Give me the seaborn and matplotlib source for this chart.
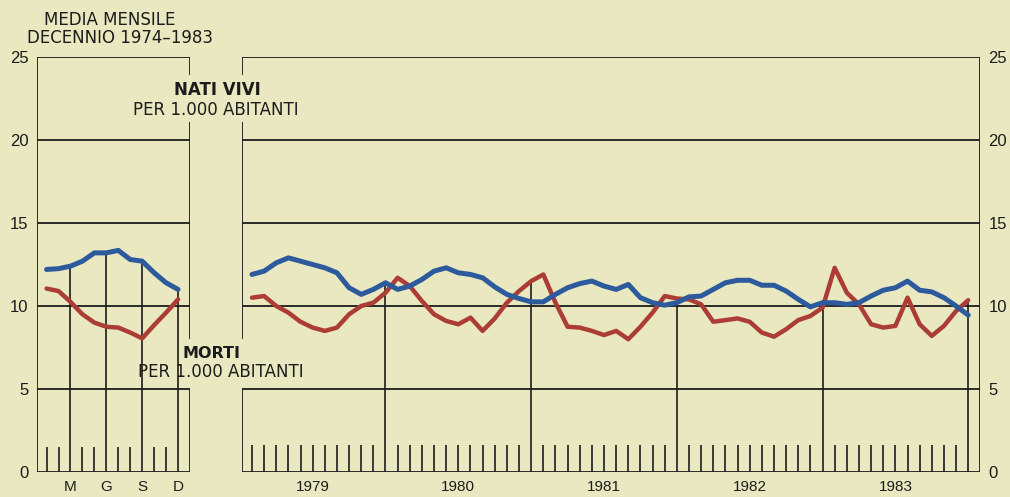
"""
Nati vivi e morti per 1.000 abitanti: media mensile 1974-1983 e serie mensile 1979-1983.
"""
import pandas as pd
import matplotlib
matplotlib.use("Agg")
import matplotlib.pyplot as plt
import seaborn as sns

sns.set_style("white")
plt.rcParams["font.family"] = ["Liberation Sans", "DejaVu Sans"]

BG = "#e9e8c0"
BLU = "#2c5a9c"
ROSSO = "#ab3d35"
INK = "#1c1c1c"

# media mensile decennio 1974-1983
mesi = list(range(1, 13))
nati_media = [12.2, 12.25, 12.4, 12.7, 13.2, 13.2, 13.35, 12.8, 12.7, 12.0, 11.4, 11.0]
morti_media = [11.05, 10.9, 10.25, 9.5, 9.0, 8.75, 8.7, 8.4, 8.05, 8.85, 9.6, 10.4]
lettere_mesi = ["M", "G", "S", "D"]

# serie mensile 1979-1983
anni = ["1979", "1980", "1981", "1982", "1983"]
nati = [11.9, 12.1, 12.6, 12.9, 12.7, 12.5, 12.3, 12.0, 11.1, 10.7, 11.0, 11.4,
        11.0, 11.2, 11.6, 12.1, 12.3, 12.0, 11.9, 11.7, 11.15, 10.7, 10.45, 10.25,
        10.25, 10.7, 11.1, 11.35, 11.5, 11.2, 11.0, 11.3, 10.5, 10.2, 10.05, 10.2,
        10.55, 10.6, 11.0, 11.4, 11.55, 11.55, 11.25, 11.25, 10.9, 10.4, 9.95, 10.2,
        10.2, 10.1, 10.2, 10.6, 10.95, 11.1, 11.5, 10.95, 10.85, 10.5, 10.0, 9.45]
morti = [10.5, 10.6, 10.0, 9.6, 9.05, 8.7, 8.5, 8.7, 9.5, 10.0, 10.2, 10.8,
         11.7, 11.2, 10.3, 9.5, 9.1, 8.9, 9.3, 8.5, 9.25, 10.2, 10.9, 11.5,
         11.9, 10.2, 8.75, 8.7, 8.5, 8.25, 8.5, 8.0, 8.75, 9.6, 10.6, 10.45,
         10.4, 10.1, 9.05, 9.15, 9.25, 9.05, 8.4, 8.15, 8.6, 9.15, 9.4, 9.9,
         12.3, 10.8, 10.1, 8.9, 8.7, 8.8, 10.5, 8.9, 8.2, 8.8, 9.7, 10.35]

df_media = pd.DataFrame({"mese": mesi, "nati": nati_media, "morti": morti_media})
df = pd.DataFrame({"mese": range(1, len(nati) + 1), "nati": nati, "morti": morti})

W, H = 1010, 497
fig = plt.figure(figsize=(W / 100, H / 100), dpi=100, facecolor=BG)
ax1 = fig.add_axes([37 / W, 25 / H, 153 / W, 415 / H])
ax2 = fig.add_axes([242 / W, 25 / H, 738 / W, 415 / H])

ax1.set_xlim(0.2, 13.0)
ax2.set_xlim(0.18, 60.97)
livelli = [0, 5, 10, 15, 20, 25]
# tratti del bordo interno lasciati liberi per le scritte
tratti = [(0, 5), (8.0, 21.1), (23.9, 25)]

for ax in (ax1, ax2):
    ax.set_facecolor(BG)
    ax.set_ylim(0, 25)
    for s in ax.spines.values():
        s.set_visible(False)
    for v in livelli:
        ax.axhline(v, color=INK, lw=1.3, zorder=1)
    ax.set_yticks(livelli)
    ax.tick_params(axis="y", length=0, labelsize=12, colors=INK, pad=6)
    ax.tick_params(axis="x", length=0, labelsize=11, colors=INK, pad=6)

# bordi verticali
ax1.axvline(ax1.get_xlim()[0], color=INK, lw=1.3)
ax2.axvline(ax2.get_xlim()[1], color=INK, lw=1.3)
for y0, y1 in tratti:
    ax1.vlines(ax1.get_xlim()[1], y0, y1, color=INK, lw=1.3)
    ax2.vlines(ax2.get_xlim()[0], y0, y1, color=INK, lw=1.3)

# pannello sinistro: media mensile
lunghi1 = [3, 6, 9, 12]
for m in mesi:
    if m in lunghi1:
        top = max(nati_media[m - 1], morti_media[m - 1])
        ax1.vlines(m, 0, top, color=INK, lw=1.2, zorder=1)
    else:
        ax1.vlines(m, 0, 1.5, color=INK, lw=1.2, zorder=1)

sns.lineplot(data=df_media, x="mese", y="morti", ax=ax1, color=ROSSO, lw=3.2, zorder=3)
sns.lineplot(data=df_media, x="mese", y="nati", ax=ax1, color=BLU, lw=3.6, zorder=4)
ax1.set_xticks(lunghi1, lettere_mesi)

# pannello destro: 1979-1983
for m in df["mese"]:
    if m % 12 == 0:
        top = max(nati[m - 1], morti[m - 1])
        ax2.vlines(m, 0, top, color=INK, lw=1.2, zorder=1)
    else:
        ax2.vlines(m, 0, 1.65, color=INK, lw=1.2, zorder=1)

sns.lineplot(data=df, x="mese", y="morti", ax=ax2, color=ROSSO, lw=3.2, zorder=3)
sns.lineplot(data=df, x="mese", y="nati", ax=ax2, color=BLU, lw=3.6, zorder=4)
ax2.set_xticks([12 * i + 6 for i in range(len(anni))], anni)
ax2.yaxis.tick_right()

for ax in (ax1, ax2):
    ax.set_xlabel("")
    ax.set_ylabel("")

# scritte
def testo(x, y, s, **kw):
    fig.text(x / W, 1 - y / H, s, ha="center", va="center", color=INK,
             family=["DejaVu Sans"], **kw)

testo(110, 20, "MEDIA MENSILE", fontsize=12)
testo(120, 38, "DECENNIO 1974–1983", fontsize=12)
testo(217, 90, "NATI VIVI", fontsize=12, fontweight="bold")
testo(216, 110, "PER 1.000 ABITANTI", fontsize=12)
testo(212, 353, "MORTI", fontsize=11.5, fontweight="bold")
testo(221, 372, "PER 1.000 ABITANTI", fontsize=12)

fig.savefig("out.png", dpi=100, facecolor=BG)
